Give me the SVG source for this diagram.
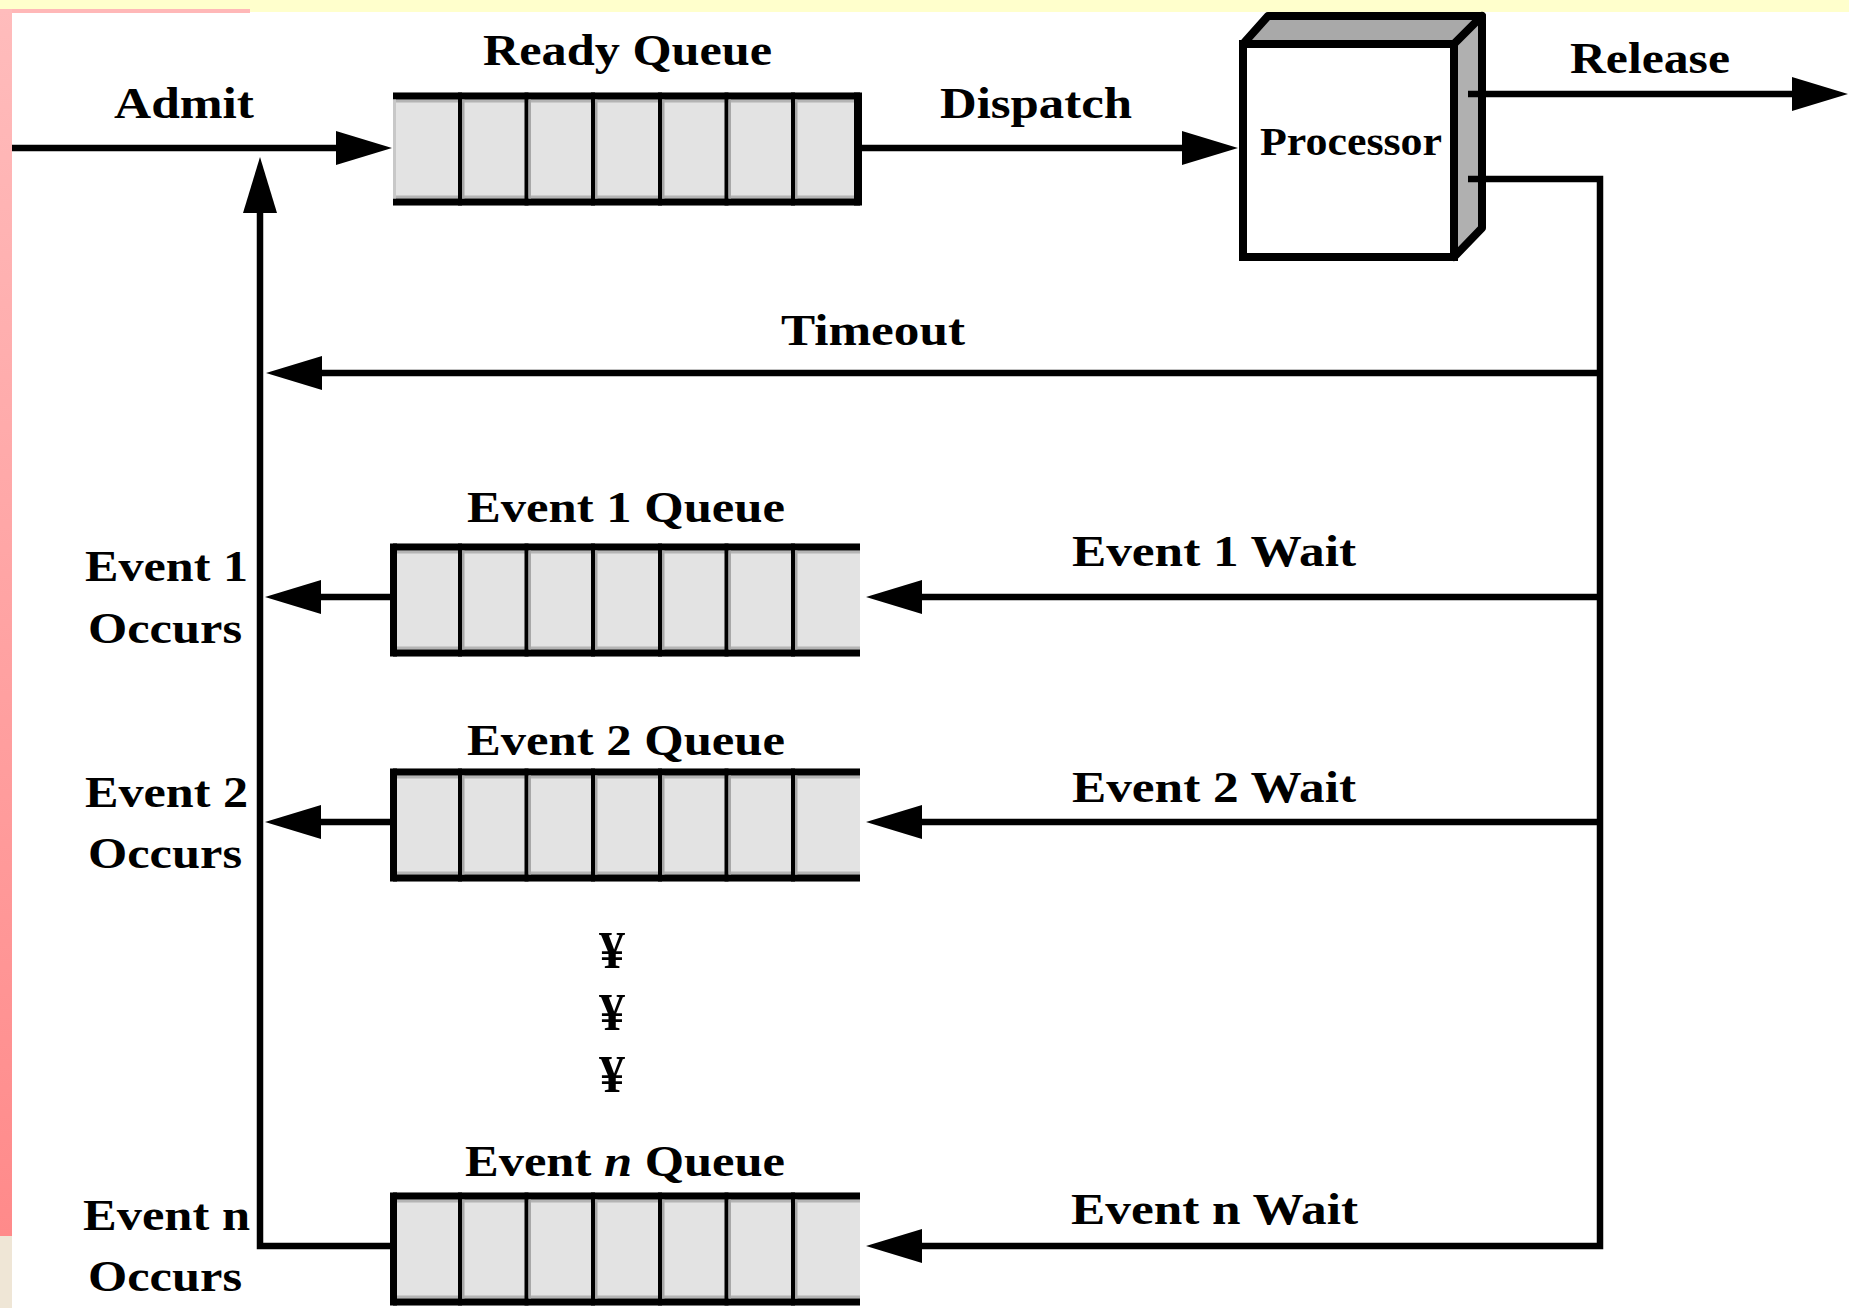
<svg xmlns="http://www.w3.org/2000/svg" xmlns:xlink="http://www.w3.org/1999/xlink" width="1849" height="1308" viewBox="0 0 1849 1308">
<style>
.lbl{font-family:"Liberation Serif","Times New Roman",serif;font-weight:bold;font-size:44px;fill:#000}
.proc{font-family:"Liberation Serif","Times New Roman",serif;font-weight:bold;font-size:40px;fill:#000}
.yen{font-family:"Liberation Serif","Times New Roman",serif;font-weight:bold;font-size:52px;fill:#000}
.ln{fill:none;stroke:#000;stroke-width:6.5;stroke-linejoin:miter}
.arr{marker-end:url(#ah)}
</style>
<defs>
<linearGradient id="pinkg" x1="0" y1="0" x2="0" y2="1">
<stop offset="0" stop-color="#ffbcbc"/>
<stop offset="1" stop-color="#ff8a8a"/>
</linearGradient>
<marker id="ah" markerUnits="userSpaceOnUse" markerWidth="56" markerHeight="36" viewBox="0 0 56 36" refX="36" refY="18" orient="auto">
<path d="M0,1 L56,18 L0,35 z" fill="#000"/>
</marker>
<g id="qcells">
<rect x="0" y="0" width="467" height="113" fill="#e3e3e3"/>
<rect x="0" y="7" width="467" height="3" fill="#b4b4b4"/>
<rect x="0" y="103" width="467" height="3" fill="#b4b4b4"/>
<rect x="0" y="0" width="467" height="7" fill="#000"/>
<rect x="0" y="106" width="467" height="7" fill="#000"/>
<g fill="#000">
<rect x="65" y="0" width="4" height="113"/>
<rect x="131.5" y="0" width="4" height="113"/>
<rect x="198" y="0" width="4" height="113"/>
<rect x="265" y="0" width="4" height="113"/>
<rect x="331.5" y="0" width="4" height="113"/>
<rect x="398" y="0" width="4" height="113"/>
</g>
<g fill="#a8a8a8">
<rect x="69" y="7" width="2.5" height="99"/>
<rect x="135.5" y="7" width="2.5" height="99"/>
<rect x="202" y="7" width="2.5" height="99"/>
<rect x="269" y="7" width="2.5" height="99"/>
<rect x="335.5" y="7" width="2.5" height="99"/>
<rect x="402" y="7" width="2.5" height="99"/>
</g>
</g>
</defs>

<!-- background -->
<rect x="0" y="0" width="1849" height="1308" fill="#ffffff"/>
<rect x="0" y="0" width="1849" height="12" fill="#ffffcc"/>
<rect x="0" y="9" width="250" height="4" fill="#ffb8b8"/>
<rect x="0" y="9" width="12" height="1227" fill="url(#pinkg)"/>
<rect x="0" y="1236" width="12" height="72" fill="#efe6d6"/>

<!-- Ready Queue -->
<g id="ready-queue">
<use xlink:href="#qcells" x="393" y="92.5"/>
<rect x="854" y="92.5" width="8" height="113" fill="#000"/>
<rect x="393" y="99.5" width="3" height="99" fill="#c8c8c8"/>
<text class="lbl" x="483" y="65" textLength="289" lengthAdjust="spacingAndGlyphs">Ready Queue</text>
</g>

<!-- Processor -->
<g id="processor">
<polygon points="1243,44 1268,16 1482,16 1454,44" fill="#a9a9a9" stroke="#000" stroke-width="8" stroke-linejoin="round"/>
<polygon points="1454,44 1482,16 1482,228 1454,257" fill="#b0b0b0" stroke="#000" stroke-width="8" stroke-linejoin="round"/>
<rect x="1243" y="44" width="211" height="213" fill="#ffffff" stroke="#000" stroke-width="8"/>
<text class="proc" x="1260" y="155" textLength="182" lengthAdjust="spacingAndGlyphs">Processor</text>
</g>

<!-- Event 1 Queue -->
<g id="event1-queue">
<use xlink:href="#qcells" x="393" y="543.5"/>
<rect x="390" y="543.5" width="7" height="113" fill="#000"/>
<text class="lbl" x="467" y="522" textLength="318" lengthAdjust="spacingAndGlyphs">Event 1 Queue</text>
</g>

<!-- Event 2 Queue -->
<g id="event2-queue">
<use xlink:href="#qcells" x="393" y="768.5"/>
<rect x="390" y="768.5" width="7" height="113" fill="#000"/>
<text class="lbl" x="467" y="755" textLength="318" lengthAdjust="spacingAndGlyphs">Event 2 Queue</text>
</g>

<!-- Event n Queue -->
<g id="eventn-queue">
<use xlink:href="#qcells" x="393" y="1192.5"/>
<rect x="390" y="1192.5" width="7" height="113" fill="#000"/>
<text class="lbl" x="465" y="1176" textLength="320" lengthAdjust="spacingAndGlyphs">Event <tspan font-style="italic">n</tspan> Queue</text>
</g>

<!-- connectors -->
<g id="connectors">
<path class="ln arr" d="M12,148 H372"/>
<path class="ln arr" d="M862,148 H1218"/>
<path class="ln arr" d="M1468,94 H1828"/>
<path class="ln arr" d="M1468,179 H1600 V1246 H886"/>
<path class="ln arr" d="M1600,373 H286"/>
<path class="ln arr" d="M1600,597 H886"/>
<path class="ln arr" d="M1600,822 H886"/>
<path class="ln arr" d="M392,597 H285"/>
<path class="ln arr" d="M392,822 H285"/>
<path class="ln arr" d="M392,1246 H260 V177"/>
</g>

<!-- labels -->
<g id="labels">
<text class="lbl" x="114" y="118" textLength="140" lengthAdjust="spacingAndGlyphs">Admit</text>
<text class="lbl" x="940" y="118" textLength="192" lengthAdjust="spacingAndGlyphs">Dispatch</text>
<text class="lbl" x="1570" y="73" textLength="160" lengthAdjust="spacingAndGlyphs">Release</text>
<text class="lbl" x="781" y="345" textLength="184" lengthAdjust="spacingAndGlyphs">Timeout</text>
<text class="lbl" x="1072" y="566" textLength="284" lengthAdjust="spacingAndGlyphs">Event 1 Wait</text>
<text class="lbl" x="1072" y="802" textLength="284" lengthAdjust="spacingAndGlyphs">Event 2 Wait</text>
<text class="lbl" x="1071" y="1224" textLength="287" lengthAdjust="spacingAndGlyphs">Event n Wait</text>
<text class="lbl" x="85" y="581" textLength="163" lengthAdjust="spacingAndGlyphs">Event 1</text>
<text class="lbl" x="88" y="643" textLength="154" lengthAdjust="spacingAndGlyphs">Occurs</text>
<text class="lbl" x="85" y="807" textLength="163" lengthAdjust="spacingAndGlyphs">Event 2</text>
<text class="lbl" x="88" y="868" textLength="154" lengthAdjust="spacingAndGlyphs">Occurs</text>
<text class="lbl" x="83" y="1230" textLength="167" lengthAdjust="spacingAndGlyphs">Event n</text>
<text class="lbl" x="88" y="1291" textLength="154" lengthAdjust="spacingAndGlyphs">Occurs</text>
<text class="yen" x="612" y="968" text-anchor="middle">¥</text>
<text class="yen" x="612" y="1030" text-anchor="middle">¥</text>
<text class="yen" x="612" y="1092" text-anchor="middle">¥</text>
</g>
</svg>
